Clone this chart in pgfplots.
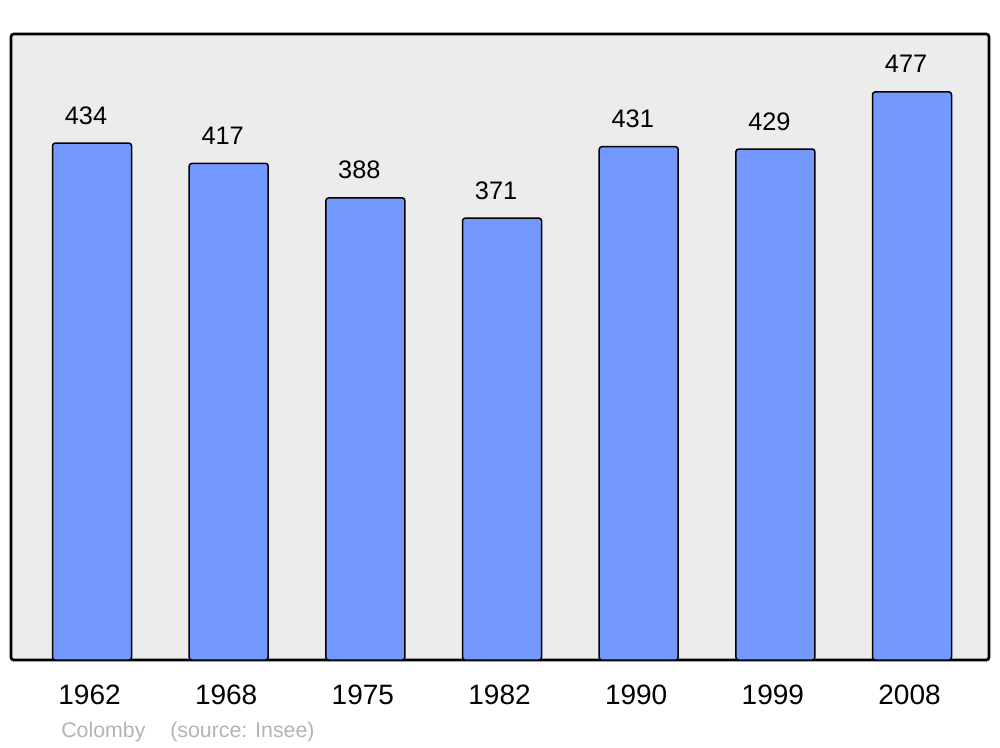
\documentclass[border=0pt]{standalone}
\usepackage{fontspec}
\setmainfont{Liberation Sans}
\usepackage{pgfplots}
\pgfplotsset{compat=1.18}
\definecolor{bgc}{HTML}{ECECEC}
\definecolor{barc}{HTML}{7399FF}
\definecolor{srcc}{HTML}{B3B3B3}
\begin{document}
\begin{tikzpicture}[x=1pt,y=1pt]
\useasboundingbox (0,0) rectangle (750,560.25);
\begin{axis}[
  at={(8.25pt,65.25pt)}, anchor=south west,
  scale only axis, width=733.5pt, height=469.5pt,
  xmin=-0.593, xmax=6.563, ymin=0, ymax=525.6,
  axis background/.style={fill=bgc, rounded corners=2pt},
  axis line style={line width=2pt, rounded corners=2pt},
  xtick={0,1,2,3,4,5,6},
  xticklabels={1962,1968,1975,1982,1990,1999,2008},
  ytick=\empty,
  major tick length=0pt,
  /pgf/number format/assume math mode=true,
  xticklabel style={font=\fontsize{21}{21}\selectfont, anchor=base, yshift=-33pt, xshift=-1.9pt, inner sep=0pt},
  ybar, bar width=59.25pt,
  nodes near coords,
  every node near coord/.append style={font=\fontsize{19}{19}\selectfont, anchor=base, yshift=14.25pt, xshift=-4.5pt, inner sep=0pt, text=black},
  clip=false,
]
\addplot[fill=barc, draw=black, line width=1.1pt, rounded corners=2pt] coordinates {
(0,434) (1,417) (2,388) (3,371) (4,431) (5,429) (6,477)};
\end{axis}
\node[anchor=base west, text=srcc, font=\fontsize{16}{16}\selectfont, inner sep=0pt] at (45.75,7.5) {Colomby};
\node[anchor=base west, text=srcc, font=\fontsize{16}{16}\selectfont, inner sep=0pt] at (127.5,7.5) {(source: Insee)};
\end{tikzpicture}
\end{document}
